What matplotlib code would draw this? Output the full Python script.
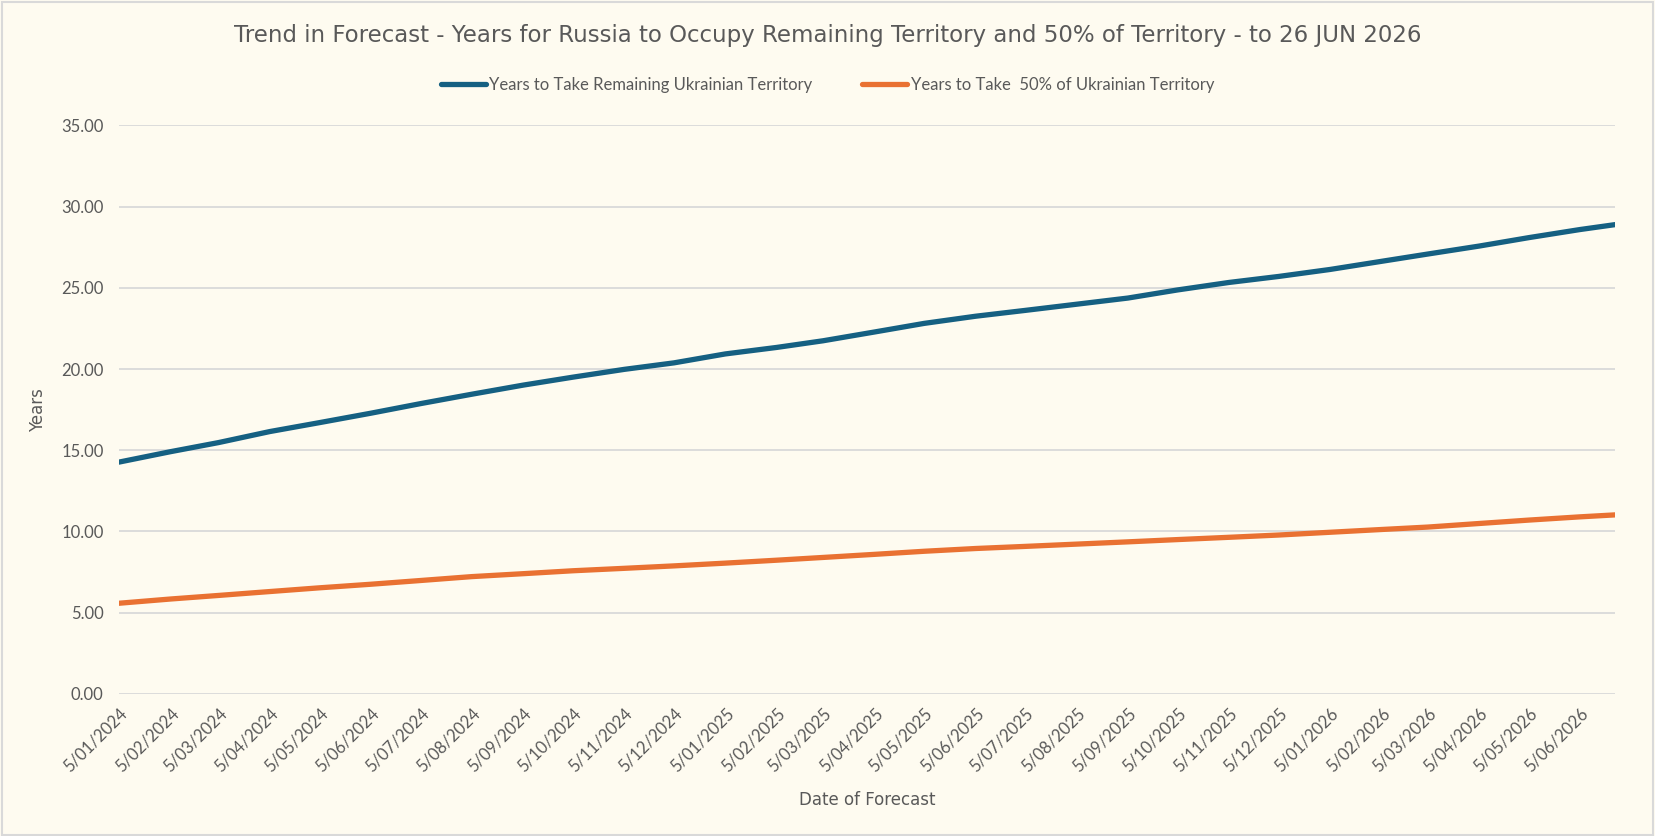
import numpy as np
import pandas as pd
import matplotlib
matplotlib.use("Agg")
import matplotlib.pyplot as plt
from matplotlib.patches import Rectangle

# data (one point per monthly tick + last forecast)
dates = ["2024-01-05", "2024-02-05", "2024-03-05", "2024-04-05", "2024-05-05",
         "2024-06-05", "2024-07-05", "2024-08-05", "2024-09-05", "2024-10-05",
         "2024-11-05", "2024-12-05", "2025-01-05", "2025-02-05", "2025-03-05",
         "2025-04-05", "2025-05-05", "2025-06-05", "2025-07-05", "2025-08-05",
         "2025-09-05", "2025-10-05", "2025-11-05", "2025-12-05", "2026-01-05",
         "2026-02-05", "2026-03-05", "2026-04-05", "2026-05-05", "2026-06-05",
         "2026-06-26"]
years_remaining = [14.27, 14.91, 15.47, 16.15, 16.70, 17.28, 17.87, 18.45, 19.01, 19.50,
                   19.98, 20.38, 20.93, 21.33, 21.74, 22.28, 22.81, 23.25, 23.61, 23.99,
                   24.37, 24.87, 25.33, 25.70, 26.13, 26.63, 27.08, 27.57, 28.09, 28.59,
                   28.89]
years_half = [5.58, 5.84, 6.06, 6.30, 6.53, 6.75, 6.98, 7.22, 7.40, 7.58,
              7.73, 7.88, 8.05, 8.23, 8.40, 8.59, 8.78, 8.95, 9.08, 9.22,
              9.36, 9.50, 9.64, 9.78, 9.95, 10.12, 10.27, 10.49, 10.70, 10.90,
              11.02]
y_ticks = [0, 5, 10, 15, 20, 25, 30, 35]

x = pd.to_datetime(dates)

bg = "#FEFBF0"
blue = "#156082"
orange = "#E97132"
txt = "#595959"

plt.rcParams['font.family'] = ['Lato', 'DejaVu Sans']

fig = plt.figure(figsize=(16.55, 8.36), dpi=100, facecolor=bg)
ax = fig.add_axes([0.0719, 0.170, 0.9039, 0.680])
ax.set_facecolor(bg)

l1, = ax.plot(x, years_remaining, color=blue, lw=3.8, solid_capstyle="round",
              label="Years to Take Remaining Ukrainian Territory")
l2, = ax.plot(x, years_half, color=orange, lw=3.8, solid_capstyle="round",
              label="Years to Take  50% of Ukrainian Territory")

ax.set_xlim(x[0], x[-1])
ax.set_ylim(0, 35)
ax.set_yticks(y_ticks)
ax.yaxis.set_major_formatter(matplotlib.ticker.FormatStrFormatter("%.2f"))
ax.grid(axis="y", color="#D9D9D9", lw=1.3)
ax.set_axisbelow(True)

ticks = pd.date_range("2024-01-01", "2026-06-01", freq="MS") + pd.Timedelta(days=4)
ax.set_xticks(ticks)
ax.set_xticklabels([f"{t.day}/{t.month:02d}/{t.year}" for t in ticks],
                   rotation=45, ha="right", rotation_mode="anchor")

for s in ax.spines.values():
    s.set_visible(False)
ax.tick_params(length=0, colors=txt, labelsize=12)
ax.tick_params(axis="x", pad=8)
ax.tick_params(axis="y", pad=11)

ax.set_ylabel("Years", color=txt, fontsize=12, family="DejaVu Sans", labelpad=10)
ax.set_xlabel("Date of Forecast", color=txt, fontsize=12, family="DejaVu Sans", labelpad=12)

fig.text(0.5, 0.958, "Trend in Forecast - Years for Russia to Occupy Remaining Territory and 50% of Territory - to 26 JUN 2026",
         ha="center", va="center", fontsize=16.5, color=txt, family="DejaVu Sans")

fig.legend(handles=[l1, l2], loc="center", bbox_to_anchor=(0.5, 0.898), ncol=2,
           frameon=False, fontsize=12, labelcolor=txt, handlelength=2.7,
           handletextpad=0.2, columnspacing=3.0)

fig.patches.append(Rectangle((0.001, 0.001), 0.998, 0.997, transform=fig.transFigure,
                             fill=False, edgecolor="#D9D9D9", lw=1.5))

fig.savefig("out.png", dpi=100, facecolor=bg)
